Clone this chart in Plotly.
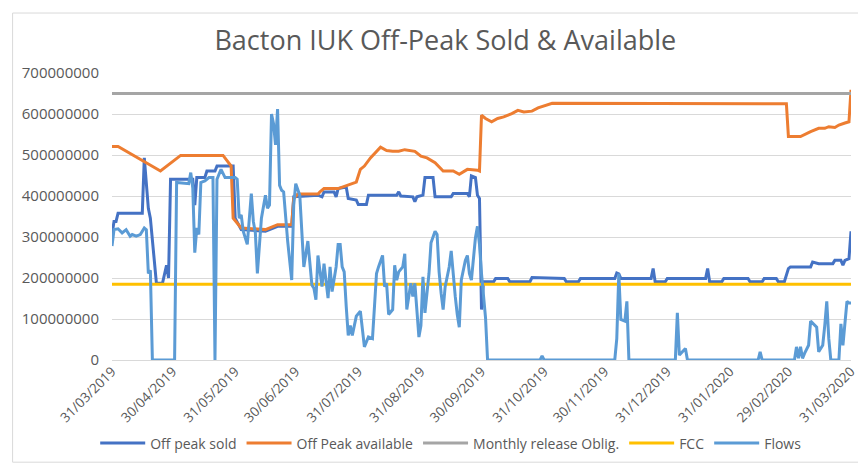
import plotly.graph_objects as go

# ---------------- data ----------------
tick_dates = ["2019-03-31", "2019-04-30", "2019-05-31", "2019-06-30", "2019-07-31",
              "2019-08-31", "2019-09-30", "2019-10-31", "2019-11-30", "2019-12-31",
              "2020-01-31", "2020-02-29", "2020-03-31"]
tick_labels = ["31/03/2019", "30/04/2019", "31/05/2019", "30/06/2019", "31/07/2019",
               "31/08/2019", "30/09/2019", "31/10/2019", "30/11/2019", "31/12/2019",
               "31/01/2020", "29/02/2020", "31/03/2020"]
y_ticks = [0, 100000000, 200000000, 300000000, 400000000, 500000000, 600000000, 700000000]

sold_dates = ["2019-03-31", "2019-04-01", "2019-04-02", "2019-04-03", "2019-04-15", "2019-04-16",
              "2019-04-18", "2019-04-19", "2019-04-22", "2019-04-25", "2019-04-27", "2019-04-28",
              "2019-04-29", "2019-05-10", "2019-05-11", "2019-05-12", "2019-05-16", "2019-05-17",
              "2019-05-21", "2019-05-22", "2019-05-30", "2019-05-31", "2019-06-03", "2019-06-15",
              "2019-06-21", "2019-06-28", "2019-06-29", "2019-07-11", "2019-07-13", "2019-07-14",
              "2019-07-19", "2019-07-20", "2019-07-21", "2019-07-25", "2019-07-26", "2019-07-30",
              "2019-07-31", "2019-08-04", "2019-08-05", "2019-08-19", "2019-08-20", "2019-08-21",
              "2019-08-27", "2019-08-28", "2019-08-29", "2019-09-01", "2019-09-02", "2019-09-06",
              "2019-09-07", "2019-09-15", "2019-09-16", "2019-09-23", "2019-09-24", "2019-09-25",
              "2019-09-27", "2019-09-28", "2019-09-29", "2019-09-30", "2019-10-01", "2019-10-06",
              "2019-10-07", "2019-10-13", "2019-10-14", "2019-10-24", "2019-10-25", "2019-11-10",
              "2019-11-11", "2019-11-17", "2019-11-18", "2019-12-05", "2019-12-06", "2019-12-07",
              "2019-12-08", "2019-12-23", "2019-12-24", "2019-12-25", "2019-12-30", "2019-12-31",
              "2020-01-19", "2020-01-20", "2020-01-21", "2020-01-27", "2020-01-28", "2020-02-09",
              "2020-02-10", "2020-02-16", "2020-02-17", "2020-02-23", "2020-02-24", "2020-02-27",
              "2020-02-29", "2020-03-01", "2020-03-11", "2020-03-12", "2020-03-15", "2020-03-22",
              "2020-03-23", "2020-03-26", "2020-03-27", "2020-03-28", "2020-03-30", "2020-03-31"]
sold_values = [306e6, 338e6, 338e6, 358e6, 358e6, 493e6,
               370e6, 346e6, 187e6, 187e6, 231e6, 200e6,
               441e6, 441e6, 378e6, 445e6, 445e6, 461e6,
               461e6, 473e6, 473e6, 346e6, 318e6, 314e6,
               326e6, 326e6, 398e6, 402e6, 398e6, 410e6,
               410e6, 398e6, 418e6, 422e6, 394e6, 390e6,
               379e6, 379e6, 402e6, 402e6, 410e6, 400e6,
               398e6, 386e6, 398e6, 402e6, 445e6, 445e6,
               398e6, 398e6, 406e6, 406e6, 398e6, 449e6,
               445e6, 402e6, 394e6, 123e6, 191e6, 191e6,
               199e6, 199e6, 191e6, 191e6, 201e6, 199e6,
               191e6, 191e6, 199e6, 199e6, 212e6, 210e6,
               199e6, 199e6, 223e6, 191e6, 191e6, 199e6,
               199e6, 223e6, 191e6, 191e6, 199e6, 199e6,
               191e6, 191e6, 199e6, 199e6, 191e6, 191e6,
               223e6, 227e6, 227e6, 239e6, 235e6, 235e6,
               243e6, 243e6, 231e6, 243e6, 247e6, 314e6]

avail_dates = ["2019-03-31", "2019-04-03", "2019-04-24", "2019-05-04", "2019-05-25", "2019-05-29",
               "2019-05-30", "2019-06-03", "2019-06-15", "2019-06-21", "2019-06-28", "2019-06-29",
               "2019-07-01", "2019-07-11", "2019-07-12", "2019-07-14", "2019-07-21", "2019-07-26",
               "2019-07-30", "2019-08-01", "2019-08-03", "2019-08-06", "2019-08-10", "2019-08-11",
               "2019-08-14", "2019-08-17", "2019-08-20", "2019-08-23", "2019-08-28", "2019-08-31",
               "2019-09-03", "2019-09-07", "2019-09-11", "2019-09-16", "2019-09-19", "2019-09-23",
               "2019-09-28", "2019-09-29", "2019-09-30", "2019-10-02", "2019-10-05", "2019-10-08",
               "2019-10-11", "2019-10-15", "2019-10-18", "2019-10-21", "2019-10-25", "2019-10-28",
               "2019-11-04", "2020-02-28", "2020-02-29", "2020-03-06", "2020-03-11", "2020-03-15",
               "2020-03-18", "2020-03-20", "2020-03-23", "2020-03-25", "2020-03-28", "2020-03-30",
               "2020-03-31"]
avail_values = [521e6, 521e6, 461e6, 499e6, 499e6, 473e6,
                346e6, 322e6, 318e6, 330e6, 330e6, 394e6,
                405e6, 405e6, 410e6, 418e6, 418e6, 426e6,
                434e6, 465e6, 473e6, 493e6, 513e6, 519e6,
                511e6, 509e6, 509e6, 513e6, 509e6, 497e6,
                493e6, 481e6, 461e6, 461e6, 453e6, 465e6,
                463e6, 461e6, 597e6, 589e6, 581e6, 589e6,
                593e6, 601e6, 609e6, 605e6, 607e6, 615e6,
                626e6, 625e6, 545e6, 545e6, 557e6, 565e6,
                565e6, 569e6, 567e6, 573e6, 578e6, 581e6,
                659e6]

oblig_dates = ["2019-03-31", "2020-03-31"]
oblig_values = [650e6, 650e6]

fcc_dates = ["2019-03-31", "2020-03-31"]
fcc_values = [185e6, 185e6]

flow_dates = ["2019-03-31", "2019-04-01", "2019-04-03", "2019-04-05", "2019-04-07", "2019-04-09",
              "2019-04-10", "2019-04-12", "2019-04-14", "2019-04-16", "2019-04-17", "2019-04-18",
              "2019-04-19", "2019-04-20", "2019-05-01", "2019-05-02", "2019-05-08", "2019-05-09",
              "2019-05-10", "2019-05-11", "2019-05-12", "2019-05-13", "2019-05-14", "2019-05-16",
              "2019-05-18", "2019-05-20", "2019-05-21", "2019-05-22", "2019-05-24", "2019-05-26",
              "2019-05-31", "2019-06-01", "2019-06-02", "2019-06-03", "2019-06-04", "2019-06-06",
              "2019-06-08", "2019-06-09", "2019-06-10", "2019-06-11", "2019-06-13", "2019-06-15",
              "2019-06-16", "2019-06-17", "2019-06-18", "2019-06-19", "2019-06-20", "2019-06-21",
              "2019-06-22", "2019-06-23", "2019-06-24", "2019-06-26", "2019-06-28", "2019-06-29",
              "2019-06-30", "2019-07-02", "2019-07-04", "2019-07-06", "2019-07-08", "2019-07-09",
              "2019-07-10", "2019-07-11", "2019-07-13", "2019-07-14", "2019-07-16", "2019-07-17",
              "2019-07-18", "2019-07-20", "2019-07-21", "2019-07-22", "2019-07-23", "2019-07-24",
              "2019-07-25", "2019-07-26", "2019-07-27", "2019-07-28", "2019-07-30", "2019-08-01",
              "2019-08-02", "2019-08-03", "2019-08-05", "2019-08-07", "2019-08-08", "2019-08-09",
              "2019-08-10", "2019-08-12", "2019-08-13", "2019-08-14", "2019-08-15", "2019-08-17",
              "2019-08-18", "2019-08-19", "2019-08-20", "2019-08-22", "2019-08-23", "2019-08-24",
              "2019-08-26", "2019-08-27", "2019-08-28", "2019-08-30", "2019-08-31", "2019-09-01",
              "2019-09-02", "2019-09-04", "2019-09-05", "2019-09-07", "2019-09-08", "2019-09-09",
              "2019-09-10", "2019-09-11", "2019-09-12", "2019-09-14", "2019-09-15", "2019-09-16",
              "2019-09-17", "2019-09-18", "2019-09-19", "2019-09-20", "2019-09-21", "2019-09-22",
              "2019-09-23", "2019-09-24", "2019-09-25", "2019-09-26", "2019-09-27", "2019-09-28",
              "2019-09-29", "2019-09-30", "2019-10-01", "2019-10-02", "2019-10-03", "2019-10-29",
              "2019-10-30", "2019-10-31", "2019-12-05", "2019-12-06", "2019-12-07", "2019-12-08",
              "2019-12-10", "2019-12-11", "2019-12-12", "2020-01-04", "2020-01-05", "2020-01-06",
              "2020-01-09", "2020-01-10", "2020-02-14", "2020-02-15", "2020-02-16", "2020-03-03",
              "2020-03-04", "2020-03-05", "2020-03-06", "2020-03-07", "2020-03-08", "2020-03-10",
              "2020-03-11", "2020-03-13", "2020-03-14", "2020-03-15", "2020-03-17", "2020-03-18",
              "2020-03-19", "2020-03-20", "2020-03-21", "2020-03-25", "2020-03-26", "2020-03-27",
              "2020-03-28", "2020-03-29", "2020-03-30", "2020-03-31"]
flow_values = [278e6, 318e6, 320e6, 310e6, 318e6, 302e6,
               306e6, 302e6, 306e6, 322e6, 318e6, 211e6,
               219e6, 0, 0, 433e6, 430e6, 457e6,
               420e6, 262e6, 322e6, 306e6, 433e6, 437e6,
               445e6, 445e6, 0, 441e6, 465e6, 445e6,
               445e6, 441e6, 346e6, 354e6, 314e6, 282e6,
               406e6, 338e6, 310e6, 211e6, 346e6, 402e6,
               370e6, 378e6, 600e6, 576e6, 525e6, 612e6,
               426e6, 414e6, 410e6, 290e6, 195e6, 378e6,
               430e6, 402e6, 227e6, 290e6, 183e6, 175e6,
               147e6, 255e6, 179e6, 235e6, 151e6, 227e6,
               167e6, 227e6, 282e6, 282e6, 227e6, 215e6,
               131e6, 60e6, 84e6, 60e6, 107e6, 119e6,
               76e6, 32e6, 56e6, 52e6, 131e6, 211e6,
               227e6, 255e6, 179e6, 187e6, 111e6, 123e6,
               231e6, 195e6, 215e6, 227e6, 259e6, 123e6,
               187e6, 155e6, 187e6, 56e6, 84e6, 203e6,
               115e6, 211e6, 286e6, 314e6, 306e6, 215e6,
               163e6, 123e6, 179e6, 227e6, 266e6, 203e6,
               155e6, 111e6, 80e6, 195e6, 223e6, 243e6,
               255e6, 211e6, 195e6, 243e6, 298e6, 326e6,
               282e6, 211e6, 163e6, 103e6, 0, 0,
               10e6, 0, 0, 52e6, 211e6, 99e6,
               95e6, 143e6, 0, 0, 115e6, 12e6,
               28e6, 0, 0, 20e6, 0, 0,
               32e6, 4e6, 32e6, 4e6, 16e6, 36e6,
               95e6, 84e6, 80e6, 20e6, 36e6, 84e6,
               143e6, 52e6, 0, 0, 88e6, 36e6,
               91e6, 143e6, 139e6, 139e6]

series = [
    ("Off peak sold", sold_dates, sold_values, "#4472C4"),
    ("Off Peak available", avail_dates, avail_values, "#ED7D31"),
    ("Monthly release Oblig.", oblig_dates, oblig_values, "#A5A5A5"),
    ("FCC", fcc_dates, fcc_values, "#FFC000"),
    ("Flows", flow_dates, flow_values, "#5B9BD5"),
]

# ---------------- figure ----------------
fig = go.Figure()
for name, xs, ys, color in series:
    fig.add_trace(go.Scatter(x=xs, y=ys, name=name, mode="lines",
                             line=dict(color=color, width=3)))

text_color = "#595959"
font_family = "Open Sans"

fig.update_layout(
    width=866, height=464,
    margin=dict(l=104, r=23, t=65, b=107),
    paper_bgcolor="white", plot_bgcolor="white",
    font=dict(family=font_family, color=text_color, size=13),
    title=dict(text="Bacton IUK Off-Peak Sold & Available",
               x=0.505, xanchor="center", y=0.929, yanchor="middle",
               font=dict(family=font_family, size=27, color=text_color)),
    showlegend=True,
    legend=dict(orientation="h", x=0.459, xanchor="center", y=-0.291, yanchor="middle",
                itemwidth=45,
                font=dict(size=14, color=text_color), bgcolor="rgba(0,0,0,0)"),
    shapes=[dict(type="rect", xref="paper", yref="paper",
                 x0=-0.1345, x1=1.04, y0=-0.356, y1=1.209,
                 line=dict(color="#D9D9D9", width=1), layer="below")],
)

fig.update_xaxes(
    type="date", automargin=False,
    range=["2019-03-31", "2020-03-31"],
    tickmode="array", tickvals=tick_dates, ticktext=tick_labels,
    tickangle=-45, showgrid=False, zeroline=False, showline=False,
    ticks="", tickfont=dict(size=13.5, color=text_color),
)
fig.update_yaxes(
    automargin=False,
    range=[0, 700000000],
    tickmode="array", tickvals=y_ticks, tickformat="d",
    showgrid=True, gridcolor="#D9D9D9", gridwidth=1,
    zeroline=True, zerolinecolor="#D9D9D9", zerolinewidth=1,
    showline=False, ticks="", ticklabelstandoff=12,
    tickfont=dict(size=15, color=text_color),
)

fig.write_html("out.html")
